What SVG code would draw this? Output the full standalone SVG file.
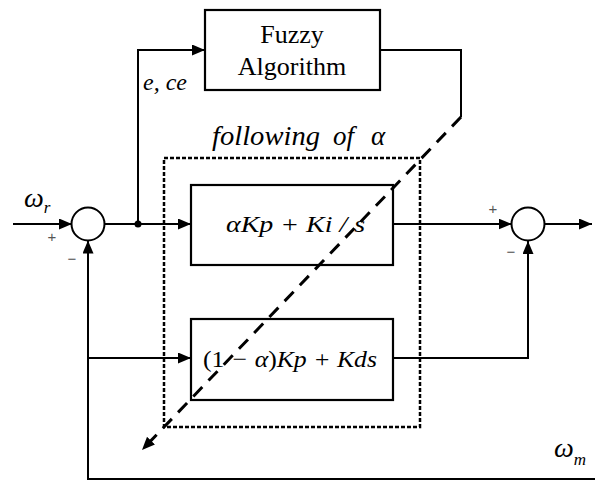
<svg xmlns="http://www.w3.org/2000/svg" width="602" height="481" viewBox="0 0 602 481">
<style>
.ln{fill:none;stroke:#000;stroke-width:2}
.box{fill:#fff;stroke:#000;stroke-width:2.2}
.t{fill:#000}
.i{font-style:italic}
.sg{font-size:15px;fill:#555}
</style>
<defs>
<marker id="ar" markerUnits="userSpaceOnUse" markerWidth="14" markerHeight="12" refX="13" refY="5.5" orient="auto">
<path d="M0,0 L13,5.5 L0,11 z" fill="#000"/>
</marker>
</defs>
<rect width="602" height="481" fill="#fff"/>
<g id="connectors">
<path class="ln" d="M13,224 H72" marker-end="url(#ar)"/>
<path class="ln" d="M104.5,224 H191" marker-end="url(#ar)"/>
<path class="ln" d="M138,224 V50 H205" marker-end="url(#ar)"/>
<path class="ln" d="M380,50 H461 V117"/>
<path class="ln" d="M393,224 H511.5" marker-end="url(#ar)"/>
<path class="ln" d="M544.5,224 H592" marker-end="url(#ar)"/>
<path class="ln" d="M393,358 H528 V241" marker-end="url(#ar)"/>
<path class="ln" d="M595,479 H88 V240.5" marker-end="url(#ar)"/>
<path class="ln" d="M88,358 H191" marker-end="url(#ar)"/>
<circle cx="138" cy="224" r="3.5" fill="#000"/>
</g>
<g font-family="Liberation Serif, Times New Roman, DejaVu Serif, serif">
<g id="following">
<rect x="164" y="158" width="256" height="269" fill="none" stroke="#000" stroke-width="2.5" stroke-dasharray="4,2"/>
<text class="t i" x="212" y="145" font-size="27" textLength="108" lengthAdjust="spacingAndGlyphs">following</text>
<text class="t i" x="333" y="145" font-size="27">of</text>
<text class="t i" x="371" y="145" font-size="27">α</text>
</g>
<g id="fuzzy">
<rect class="box" x="205" y="10" width="175" height="80"/>
<text class="t" x="292" y="43" font-size="26" text-anchor="middle">Fuzzy</text>
<text class="t" x="292" y="75" font-size="26" text-anchor="middle">Algorithm</text>
</g>
<text class="t i" x="143" y="90" font-size="24">e, ce</text>
<g id="pi">
<rect class="box" x="191" y="185" width="202" height="80"/>
<text class="t i" x="226" y="232" font-size="24" textLength="139" lengthAdjust="spacingAndGlyphs">αKp + Ki / s</text>
</g>
<g id="pd">
<rect class="box" x="191" y="319" width="202" height="81"/>
<text class="t i" x="203" y="367" font-size="24" textLength="174" lengthAdjust="spacingAndGlyphs"><tspan font-style="normal">(1</tspan> − α<tspan font-style="normal">)</tspan>Kp + Kds</text>
</g>
<g id="sum1">
<circle cx="88" cy="224" r="16.5" fill="#fff" stroke="#000" stroke-width="2"/>
<text class="sg" x="52" y="242" text-anchor="middle" font-family="Liberation Sans, sans-serif">+</text>
<text class="sg" x="72" y="264" text-anchor="middle" font-family="Liberation Sans, sans-serif">−</text>
</g>
<g id="sum2">
<circle cx="528" cy="224" r="16.5" fill="#fff" stroke="#000" stroke-width="2"/>
<text class="sg" x="493" y="214" text-anchor="middle" font-family="Liberation Sans, sans-serif">+</text>
<text class="sg" x="511" y="257" text-anchor="middle" font-family="Liberation Sans, sans-serif">−</text>
</g>
<g id="labels">
<text class="t i" x="24" y="207" font-size="28">ω<tspan font-size="17" dy="6">r</tspan></text>
<text class="t i" x="554" y="457" font-size="28">ω<tspan font-size="17" dy="8">m</tspan></text>
</g>
</g>
<path d="M461,117 L142,450" fill="none" stroke="#000" stroke-width="3" stroke-dasharray="13,9" marker-end="url(#ar)"/>
</svg>
